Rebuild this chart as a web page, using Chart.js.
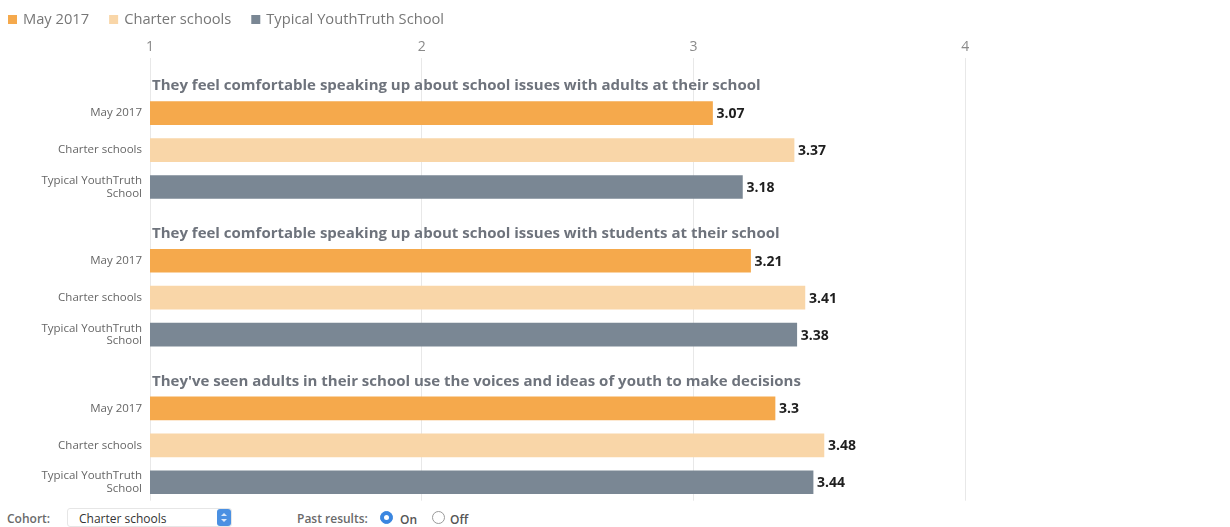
<!DOCTYPE html>
<html>
<head>
<meta charset="utf-8">
<script src="https://cdn.jsdelivr.net/npm/chart.js@4"></script>
<style>
  html, body { margin: 0; padding: 0; background: #fff; overflow: hidden; }
  body { width: 1230px; height: 527px; position: relative; font-family: "Open Sans", sans-serif; }
  #wrap { position: absolute; left: 0; top: 0; width: 1250px; height: 515px; }
  .controls { position: absolute; top: 508px; left: 0; width: 1230px; height: 19px; font-size: 12px; background: #fff; }
  .lbl { position: absolute; top: 2px; font-weight: 600; color: #6a6a6a; }
  .select { position: absolute; left: 67px; top: 0; width: 165px; height: 19px; border: 1px solid #e6e6e6; border-radius: 3px; box-sizing: border-box; color: #333; }
  .select span { position: absolute; left: 11px; top: 1px; }
  .select i { position: absolute; right: 0; top: 0; width: 14px; height: 17px; background: #4a90e2; border-radius: 3px; }
  .select i::before, .select i::after { content: ""; position: absolute; left: 4px; border-left: 3px solid transparent; border-right: 3px solid transparent; }
  .select i::before { top: 4px; border-bottom: 3px solid #dbe9fa; }
  .select i::after { top: 10px; border-top: 3px solid #dbe9fa; }
  .radio { position: absolute; top: 3px; width: 13px; height: 13px; border-radius: 50%; box-sizing: border-box; }
  .radio.on { background: #3a86e0; border: 1px solid #3a86e0; }
  .radio.on::after { content: ""; position: absolute; left: 3px; top: 3px; width: 5px; height: 5px; border-radius: 50%; background: #fff; }
  .radio.off { border: 1px solid #9a9a9a; background: #fff; }
  .opt { position: absolute; top: 3px; font-weight: 600; color: #555; }
</style>
</head>
<body>
<div id="wrap"><canvas id="barChart" width="1250" height="515"></canvas></div>
<div class="controls">
  <span class="lbl" style="left:7px">Cohort:</span>
  <div class="select"><span>Charter schools</span><i></i></div>
  <span class="lbl" style="left:297px">Past results:</span>
  <span class="radio on" style="left:380px"></span>
  <span class="opt" style="left:400px">On</span>
  <span class="radio off" style="left:432px"></span>
  <span class="opt" style="left:450px">Off</span>
</div>
<script>
const questions = [
  "They feel comfortable speaking up about school issues with adults at their school",
  "They feel comfortable speaking up about school issues with students at their school",
  "They've seen adults in their school use the voices and ideas of youth to make decisions"
];
const cohorts = ["May 2017", "Charter schools", "Typical YouthTruth School"];
const rowLabels = ["May 2017", "Charter schools", ["Typical YouthTruth", "School"]];
const may2017 = [3.07, 3.21, 3.3];
const charterSchools = [3.37, 3.41, 3.48];
const typicalSchool = [3.18, 3.38, 3.44];
const tickValues = [1, 2, 3, 4, 5];

const colors = ["#f5a94c", "#f9d6a8", "#7a8794"];

// one blank row per question (title goes there), then one row per cohort
const labels = [];
questions.forEach(() => {
  labels.push("");
  rowLabels.forEach(l => labels.push(l));
});

function spread(values, slot) {
  const out = [];
  values.forEach(v => {
    for (let i = 0; i < 4; i++) out.push(i === slot + 1 ? v : null);
  });
  return out;
}

const series = [may2017, charterSchools, typicalSchool];
const datasets = cohorts.map((name, i) => ({
  label: name,
  data: spread(series[i], i),
  backgroundColor: colors[i],
  barThickness: 23,
  grouped: false,
  skipNull: true
}));

// legend row, question titles above each group, value labels at bar ends
const extras = {
  id: "extras",
  afterDraw(chart) {
    const ctx = chart.ctx;
    const y = chart.scales.y;
    const left = chart.chartArea.left;
    ctx.save();
    ctx.textBaseline = "middle";
    ctx.textAlign = "left";

    ctx.font = "14.7px 'Open Sans'";
    let lx = 8;
    chart.data.datasets.forEach(ds => {
      ctx.fillStyle = ds.backgroundColor;
      ctx.fillRect(lx, 15, 9, 9);
      ctx.fillStyle = "#777";
      ctx.fillText(ds.label, lx + 15, 19.5);
      lx += 15 + ctx.measureText(ds.label).width + 20;
    });

    ctx.font = "bold 15px 'Open Sans'";
    ctx.fillStyle = "#6e737c";
    questions.forEach((q, qi) => {
      ctx.fillText(q, left + 2, y.getPixelForValue(qi * 4 + 1) - 27);
    });

    ctx.font = "bold 14px 'Open Sans'";
    ctx.fillStyle = "#1e1e1e";
    chart.data.datasets.forEach((ds, di) => {
      const meta = chart.getDatasetMeta(di);
      meta.data.forEach((bar, idx) => {
        const v = ds.data[idx];
        if (v === null) return;
        ctx.fillText(String(v), bar.x + 4, bar.y + 1);
      });
    });
    ctx.restore();
  }
};

new Chart(document.getElementById("barChart").getContext("2d"), {
  type: "bar",
  data: { labels: labels, datasets: datasets },
  plugins: [extras],
  options: {
    indexAxis: "y",
    responsive: false,
    animation: false,
    layout: { padding: { left: 0, right: 13, top: 37, bottom: 3 } },
    plugins: {
      tooltip: { enabled: false },
      legend: { display: false }
    },
    scales: {
      x: {
        position: "top",
        min: 1,
        max: 5,
        afterBuildTicks: (scale) => { scale.ticks = tickValues.map(v => ({ value: v })); },
        grid: { color: "#e8e8e8", drawTicks: false },
        border: { display: false },
        ticks: { color: "#8a8a8a", padding: 2, font: { family: "'Open Sans'", size: 14 } }
      },
      y: {
        grid: { display: false, drawTicks: false },
        border: { display: false },
        afterFit: (scale) => { scale.width = 150; },
        ticks: {
          color: "#666",
          padding: 8,
          autoSkip: false,
          font: { family: "'Open Sans'", size: 11.5, lineHeight: 1.1 }
        }
      }
    }
  }
});
</script>
</body>
</html>
